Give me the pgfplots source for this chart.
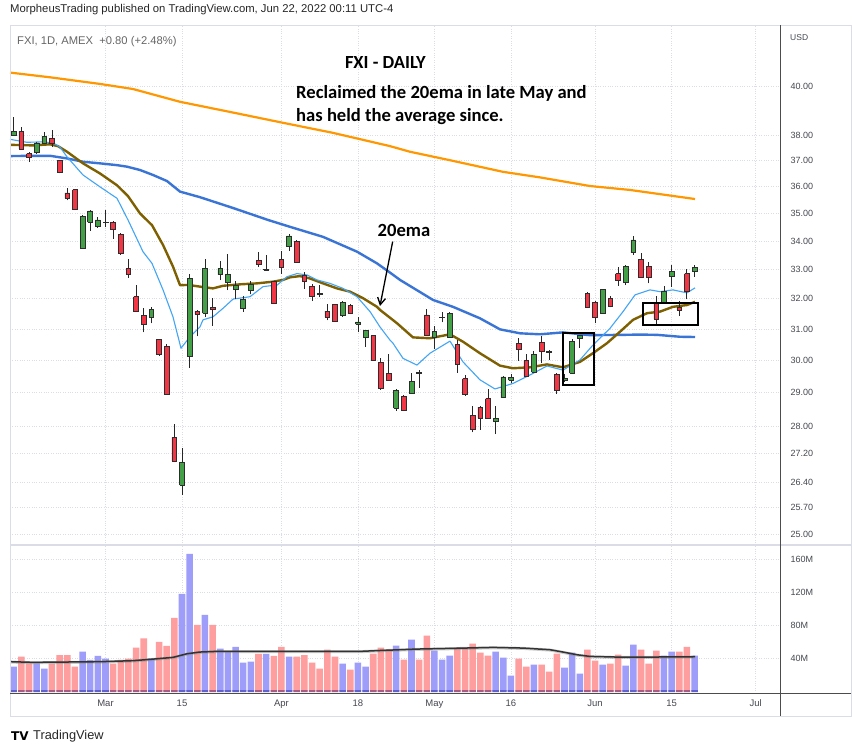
\documentclass[border=0pt]{standalone}
\usepackage{fontspec}
\setmainfont{Liberation Sans}
\newfontfamily\annfont{Carlito}
\newfontfamily\logofont{DejaVu Sans}
\usepackage{pgfplots}
\pgfplotsset{compat=1.18}
\usepackage{pgfplotstable}
\usetikzlibrary{arrows.meta}

\definecolor{candgreen}{RGB}{67,160,71}
\definecolor{candred}{RGB}{242,54,69}
\definecolor{edge}{RGB}{45,45,45}
\definecolor{volblue}{RGB}{158,158,250}
\definecolor{volred}{RGB}{255,158,158}
\definecolor{volbluedk}{RGB}{98,98,205}
\definecolor{volreddk}{RGB}{165,92,135}
\definecolor{maorange}{RGB}{255,152,0}
\definecolor{mablue}{RGB}{58,117,214}
\definecolor{mabrown}{RGB}{127,96,0}
\definecolor{malight}{RGB}{66,165,245}
\definecolor{tvtext}{RGB}{70,72,80}
\definecolor{tvline}{RGB}{218,221,230}

\pgfplotstableread{
i O H L C V
0 38.01 38.75 37.99 38.15 29.9
1 38.15 38.32 37.43 37.45 42.0
2 37.27 37.32 36.94 37.13 34.0
3 37.31 37.73 37.27 37.69 34.0
4 37.67 38.11 37.63 37.95 27.5
5 37.87 38.21 37.53 37.67 33.5
6 36.99 37.03 36.50 36.54 44.0
7 35.76 35.94 35.48 35.56 44.0
8 35.88 35.91 35.14 35.15 30.0
9 33.74 34.96 33.72 34.88 48.0
10 34.67 35.12 34.37 35.09 38.0
11 34.52 34.86 34.48 34.76 43.0
12 34.66 35.12 34.49 34.68 39.5
13 34.67 34.72 34.08 34.42 33.5
14 34.23 34.28 33.52 33.55 38.0
15 33.04 33.36 32.71 32.83 39.5
16 32.07 32.46 31.57 31.58 53.0
17 31.45 31.68 30.89 31.16 64.0
18 31.39 31.73 31.18 31.65 40.0
19 30.67 30.68 30.14 30.20 60.0
20 30.45 30.51 28.93 28.94 55.0
21 27.67 28.06 26.96 26.99 89.0
22 26.32 27.36 26.04 26.94 118.0
23 30.12 32.84 29.77 32.68 166.5
24 31.58 31.62 30.76 31.48 80.6
25 31.52 33.35 31.41 33.04 92.7
26 31.71 32.03 31.11 31.65 80.6
27 32.83 33.29 32.63 33.04 51.6
28 32.55 33.54 32.29 32.84 48.4
29 32.33 32.60 32.00 32.46 54.0
30 31.67 32.08 31.57 31.99 34.7
31 32.29 32.60 32.15 32.49 35.9
32 33.32 33.61 33.09 33.18 45.5
33 32.98 33.51 32.95 33.00 45.5
34 32.59 32.60 31.84 31.85 43.0
35 33.35 33.65 32.86 33.08 54.0
36 33.80 34.24 33.66 34.18 42.0
37 34.00 34.02 33.24 33.25 42.0
38 32.80 32.90 32.34 32.59 44.0
39 32.43 32.49 31.92 32.09 34.7
40 32.17 32.45 32.05 32.15 27.4
41 31.59 31.82 31.28 31.38 50.4
42 31.81 31.82 31.25 31.26 42.0
43 31.44 31.94 31.41 31.89 33.5
44 31.77 31.82 31.49 31.51 26.2
45 31.16 31.39 30.89 31.23 34.7
46 30.74 30.98 30.43 30.95 29.9
47 30.78 30.82 29.99 30.00 45.7
48 29.93 30.08 29.09 29.12 53.0
49 29.59 30.20 29.37 29.38 50.5
50 28.52 29.12 28.45 29.07 55.4
51 28.89 28.92 28.44 28.45 38.4
52 28.97 29.60 28.96 29.34 62.6
53 29.62 29.71 29.14 29.60 38.4
54 31.46 31.66 30.79 30.80 67.5
55 30.74 31.09 30.36 30.92 49.3
56 31.37 31.55 31.22 31.39 38.4
57 30.74 31.55 30.73 31.52 43.2
58 30.51 30.65 29.61 29.88 53.0
59 29.43 29.54 28.91 28.94 53.0
60 28.32 28.59 27.81 27.90 57.8
61 28.56 28.60 27.89 28.23 46.9
62 28.82 29.12 28.22 28.23 43.2
63 28.15 28.59 27.76 28.23 48.0
64 28.85 29.51 28.84 29.48 40.8
65 29.37 29.57 29.28 29.46 19.0
66 30.54 30.72 29.98 30.35 39.6
67 29.99 30.20 29.48 29.49 29.9
68 29.62 30.30 29.61 30.18 32.3
69 30.58 30.76 29.90 30.28 32.3
70 30.28 30.33 30.00 30.26 23.8
71 29.55 29.59 28.97 29.07 45.7
72 29.36 29.57 29.31 29.44 28.7
73 29.59 30.67 29.58 30.61 46.9
74 30.71 30.82 30.40 30.79 21.4
75 32.17 32.23 31.70 31.71 50.5
76 31.89 31.91 31.18 31.39 37.2
77 31.52 32.32 31.51 32.31 32.3
78 32.00 32.09 31.71 31.74 33.5
79 32.86 33.07 32.44 32.62 44.4
80 32.55 33.14 32.46 33.12 31.1
81 33.59 34.18 33.51 34.04 56.6
82 33.35 33.56 32.71 32.72 50.5
83 33.11 33.27 32.52 32.72 33.5
84 31.87 32.09 31.16 31.33 49.3
85 31.89 32.43 31.87 32.26 43.2
86 32.75 33.15 32.40 32.93 48.0
87 31.70 31.92 31.44 31.63 48.0
88 32.86 33.00 31.98 32.26 54.0
89 32.94 33.15 32.75 33.06 43.2
}\candles

\newcommand\getcandle[1]{%
  \pgfplotstablegetelem{#1}{O}\of\candles\edef\cO{\pgfplotsretval}%
  \pgfplotstablegetelem{#1}{H}\of\candles\edef\cH{\pgfplotsretval}%
  \pgfplotstablegetelem{#1}{L}\of\candles\edef\cL{\pgfplotsretval}%
  \pgfplotstablegetelem{#1}{C}\of\candles\edef\cC{\pgfplotsretval}%
  \pgfplotstablegetelem{#1}{V}\of\candles\edef\cV{\pgfplotsretval}%
  \ifdim\cC pt<\cO pt
    \def\ccol{candred}\def\vcol{volred}\def\vdk{volreddk}%
  \else
    \def\ccol{candgreen}\def\vcol{volblue}\def\vdk{volbluedk}%
  \fi
}

\begin{document}
\begin{tikzpicture}
\useasboundingbox (0pt,0pt) rectangle (852pt,-753pt);
\fill[white] (0pt,0pt) rectangle (852pt,-753pt);

% ---------------- price pane ----------------
\begin{axis}[
  at={(10pt,-545pt)}, anchor=south west,
  scale only axis, width=770pt, height=520pt,
  xmin=-0.484, xmax=100.17,
  ymode=log, ymin=24.713, ymax=42.65,
  ytick={25,25.7,26.4,27.2,28,29,30,31,32,33,34,35,36,37,38,40},
  yticklabels={25.00,25.70,26.40,27.20,28.00,29.00,30.00,31.00,32.00,33.00,34.00,35.00,36.00,37.00,38.00,40.00},
  yticklabel pos=right,
  yticklabel style={anchor=west, xshift=7pt, font=\fontsize{9}{10}\selectfont, text=tvtext},
  xtick={12,22,35,45,55,65,76,86,97}, xticklabels={},
  xmajorgrids, ymajorgrids, grid style={tvline, dotted, line width=0.8pt},
  axis line style={draw=none}, major tick length=0pt,
  clip=true,
]
\addplot[maorange, line width=2.2pt, line join=round] coordinates {
(-0.48,40.57)(4.75,40.37)(11.28,40.09)(15.59,39.88)(21.74,39.35)(28.67,38.91)(35.20,38.49)(41.74,38.09)(49.19,37.56)(51.80,37.34)(57.03,37.01)(63.96,36.56)(68.80,36.35)(75.32,36.02)(80.56,35.87)(89.06,35.53)};
\addplot[mablue, line width=2.4pt, line join=round] coordinates {
(-0.48,37.17)(2.52,37.18)(4.75,37.18)(6.97,37.08)(9.06,36.95)(11.28,36.89)(13.50,36.82)(14.81,36.76)(16.51,36.63)(18.21,36.44)(20.04,36.21)(21.74,35.81)(24.35,35.60)(28.67,35.20)(33.24,34.76)(36.12,34.51)(40.43,34.15)(44.88,33.62)(47.49,33.21)(49.19,32.89)(50.50,32.64)(54.81,31.96)(57.42,31.73)(60.95,31.35)(63.57,30.99)(66.18,30.86)(68.80,30.83)(71.80,30.89)(75.32,30.80)(79.65,30.81)(81.87,30.82)(84.10,30.81)(87.10,30.75)(89.06,30.74)};
\addplot[mabrown, line width=2.4pt, line join=round] coordinates {
(-0.48,37.61)(2.52,37.59)(4.75,37.63)(5.79,37.56)(6.97,37.34)(9.06,36.89)(11.28,36.50)(13.50,36.05)(14.94,35.64)(16.51,35.00)(18.08,34.57)(19.52,33.86)(20.82,33.10)(21.74,32.46)(22.78,32.47)(24.35,32.41)(26.05,32.35)(27.36,32.44)(29.58,32.49)(31.80,32.52)(33.90,32.58)(35.20,32.64)(36.12,32.73)(37.42,32.77)(38.73,32.69)(40.43,32.52)(42.26,32.35)(43.96,32.24)(45.66,32.02)(47.49,31.73)(47.88,31.63)(50.10,31.19)(52.19,30.73)(54.41,30.70)(57.03,30.83)(58.73,30.59)(60.95,30.22)(63.57,29.83)(65.27,29.75)(67.49,29.78)(69.71,29.87)(71.80,29.78)(74.02,29.95)(75.71,30.22)(77.55,30.54)(79.25,30.91)(80.96,31.30)(82.79,31.52)(84.48,31.57)(86.18,31.73)(88.01,31.79)(89.06,31.90)};
\addplot[malight, line width=1.1pt, line join=round] coordinates {
(-0.48,37.83)(1.74,37.71)(3.83,37.73)(5.14,37.69)(6.05,37.53)(6.97,37.14)(9.06,36.44)(11.28,35.99)(13.50,35.56)(14.94,34.76)(16.90,33.62)(18.08,33.21)(19.52,32.30)(20.82,31.40)(21.87,30.38)(23.04,30.75)(24.35,31.07)(24.74,31.30)(26.05,31.40)(27.36,31.68)(28.67,31.99)(30.89,32.07)(32.59,32.41)(33.50,32.44)(34.42,32.46)(35.73,32.75)(37.03,32.86)(38.34,32.81)(39.65,32.64)(41.35,32.52)(43.05,32.35)(44.88,32.07)(46.58,31.57)(47.88,31.07)(49.19,30.64)(49.58,30.54)(50.89,30.06)(52.71,29.85)(54.41,30.22)(57.03,30.61)(58.73,29.95)(60.95,29.39)(62.91,29.11)(65.27,29.28)(67.49,29.54)(69.71,29.82)(71.80,29.69)(74.02,30.01)(75.71,30.48)(77.94,31.02)(79.65,31.57)(81.22,32.13)(83.18,32.30)(84.48,32.24)(86.18,32.30)(88.01,32.20)(89.06,32.37)};

\pgfplotsinvokeforeach{0,...,89}{%
  \getcandle{#1}%
  \edef\doplot{%
    \noexpand\addplot[draw=black!85, line width=0.9pt, forget plot] coordinates {(#1,\cL) (#1,\cH)};
    \noexpand\addplot[draw=edge, fill=\ccol, line width=0.7pt, forget plot] coordinates {(#1-0.31,\cO) (#1+0.31,\cO) (#1+0.31,\cC) (#1-0.31,\cC) (#1-0.31,\cO)};
  }\doplot
}

% annotations
\addplot[black, line width=2pt, line cap=rect, forget plot] coordinates {(71.76,30.86)(75.86,30.86)(75.86,29.23)(71.76,29.23)(71.76,30.86)};
\addplot[black, line width=2pt, line cap=rect, forget plot] coordinates {(82.30,31.85)(89.49,31.85)(89.49,31.13)(82.30,31.13)(82.30,31.85)};
\addplot[black, line width=1.3pt, -{Straight Barb[length=7pt,width=8pt]}, forget plot] coordinates {(49.54,33.98)(47.88,31.76)};
\end{axis}

% ---------------- volume pane ----------------
\begin{axis}[
  at={(10pt,-693pt)}, anchor=south west,
  scale only axis, width=770pt, height=148pt,
  xmin=-0.484, xmax=100.17,
  ymin=-2.06, ymax=177.3,
  ytick={40,80,120,160}, yticklabels={40M,80M,120M,160M},
  yticklabel pos=right,
  yticklabel style={anchor=west, xshift=7pt, font=\fontsize{9}{10}\selectfont, text=tvtext},
  xtick={12,22,35,45,55,65,76,86,97},
  xticklabels={Mar,15,Apr,18,May,16,Jun,15,Jul},
  xticklabel style={font=\fontsize{9.5}{10}\selectfont, text=tvtext, yshift=-3pt},
  xmajorgrids, ymajorgrids, grid style={tvline, dotted, line width=0.8pt},
  axis line style={draw=none}, major tick length=0pt,
  clip=true,
]
\pgfplotsinvokeforeach{0,...,89}{%
  \getcandle{#1}%
  \edef\doplot{%
    \noexpand\addplot[draw=none, fill=\vcol, forget plot] coordinates {(#1-0.43,0) (#1+0.43,0) (#1+0.43,\cV) (#1-0.43,\cV) (#1-0.43,0)};
    \noexpand\addplot[draw=none, fill=\vdk, forget plot] coordinates {(#1-0.43,-1.0) (#1+0.43,-1.0) (#1+0.43,1.3) (#1-0.43,1.3) (#1-0.43,-1.0)};
  }\doplot
}
\addplot[black!45, line width=3pt, opacity=0.45, line join=round] coordinates {
(-0.48,35.4)(2.52,34.7)(6.97,35.0)(11.28,35.4)(15.59,36.7)(17.82,38.3)(20.82,40.7)(22.65,45.0)(24.35,47.2)(26.58,48.0)(37.42,48.0)(45.27,48.0)(48.27,49.2)(52.71,50.8)(57.03,51.6)(62.65,52.8)(66.58,52.0)(70.10,50.0)(71.80,47.2)(73.63,43.9)(75.32,41.9)(78.86,41.1)(83.18,41.1)(89.06,41.5)};
\addplot[black!80, line width=1.5pt, line join=round] coordinates {
(-0.48,35.9)(2.52,35.1)(6.97,35.5)(11.28,35.9)(15.59,37.1)(17.82,38.7)(20.82,41.1)(22.65,45.5)(24.35,47.6)(26.58,48.4)(37.42,48.4)(45.27,48.4)(48.27,49.6)(52.71,51.2)(57.03,52.0)(62.65,53.2)(66.58,52.4)(70.10,50.4)(71.80,47.6)(73.63,44.3)(75.32,42.3)(78.86,41.5)(83.18,41.5)(89.06,41.9)};
\end{axis}

% ---------------- frame ----------------
\draw[tvline, line width=1pt] (10pt,-25pt) rectangle (851pt,-716pt);
\draw[tvline, line width=1.2pt] (10pt,-545pt) -- (851pt,-545pt);
\draw[black!70, line width=0.9pt] (10pt,-693pt) -- (851pt,-693pt);
\draw[black!70, line width=0.9pt] (780pt,-25pt) -- (780pt,-716pt);

% ---------------- texts ----------------
\node[anchor=west, inner sep=0pt, font=\fontsize{11.3}{13}\selectfont, text=black!85] at (10pt,-10pt) {MorpheusTrading published on TradingView.com, Jun 22, 2022 00:11 UTC-4};
\node[anchor=west, inner sep=0pt, font=\fontsize{11.2}{13}\selectfont, text=black!60] at (17pt,-42pt) {FXI, 1D, AMEX\ \ +0.80 (+2.48\%)};
\node[anchor=west, inner sep=0pt, font=\fontsize{8.5}{10}\selectfont, text=tvtext] at (790pt,-38pt) {USD};
\node[anchor=west, inner sep=0pt, font=\annfont\bfseries\fontsize{18.5}{20}\selectfont] at (345pt,-62pt) {FXI - DAILY};
\node[anchor=west, inner sep=0pt, font=\annfont\bfseries\fontsize{18.6}{20}\selectfont] at (296pt,-93pt) {Reclaimed the 20ema in late May and};
\node[anchor=west, inner sep=0pt, font=\annfont\bfseries\fontsize{18.6}{20}\selectfont] at (296pt,-117pt) {has held the average since.};
\node[inner sep=0pt, font=\annfont\bfseries\fontsize{18.6}{20}\selectfont] at (404pt,-230pt) {20ema};
\node[anchor=west, inner sep=0pt, font=\logofont\bfseries\fontsize{12}{13}\selectfont] at (11pt,-736pt) {TV};
\node[anchor=west, inner sep=0pt, font=\fontsize{12.8}{14}\selectfont, text=black!85] at (33pt,-736pt) {TradingView};
\end{tikzpicture}
\end{document}
